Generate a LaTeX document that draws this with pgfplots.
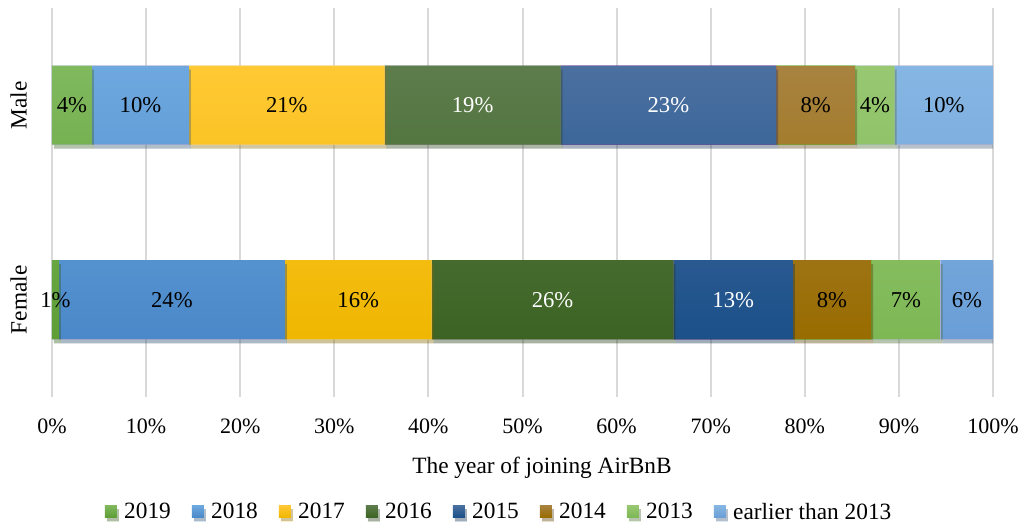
\documentclass[border=0pt]{standalone}
\usepackage{pgfplots}
\pgfplotsset{compat=1.18}
\usepackage{fontspec}
\setmainfont{Liberation Serif}
\usetikzlibrary{shadows}
\definecolor{t19}{HTML}{80B95E}\definecolor{b19}{HTML}{5E9E35}
\definecolor{t18}{HTML}{6EA8DF}\definecolor{b18}{HTML}{4A88C9}
\definecolor{t17}{HTML}{FFC935}\definecolor{b17}{HTML}{EFB700}
\definecolor{t16}{HTML}{5D7D4C}\definecolor{b16}{HTML}{3C6323}
\definecolor{t15}{HTML}{4B70A0}\definecolor{b15}{HTML}{1B5089}
\definecolor{t14}{HTML}{A88340}\definecolor{b14}{HTML}{996C00}
\definecolor{t13}{HTML}{98C872}\definecolor{b13}{HTML}{7DB855}
\definecolor{tE}{HTML}{86B6E3}\definecolor{bE}{HTML}{6A9ED6}
\definecolor{gridc}{HTML}{D9D9D9}
\newif\ifinlegend
\tikzset{myshadow/.code={\ifinlegend\else\pgfkeysalso{drop shadow={shadow xshift=1.5pt,shadow yshift=-3pt,opacity=0.22,fill=black}}\fi}}
\pgfplotsset{
  seg/.style n args={3}{draw=none, top color=#1, bottom color=#2, myshadow,
    every node near coord/.append style={text=#3}},
}
\begin{document}
\begin{tikzpicture}
\begin{axis}[
  name=ax,
  scale only axis,
  width=705.75pt, height=291.75pt,
  xbar stacked,
  bar width=59.25pt,
  xmin=0, xmax=100,
  ymin=-0.5, ymax=1.5,
  xtick={0,10,...,100},
  xticklabels={0\%,10\%,20\%,30\%,40\%,50\%,60\%,70\%,80\%,90\%,100\%},
  ytick={0,1},
  yticklabels={Female,Male},
  xmajorgrids,
  major grid style={draw=gridc, line width=1.5pt},
  axis line style={draw=none},
  tick style={draw=none},
  /pgf/number format/assume math mode=true,
  xticklabel style={font=\fontsize{16.5}{19}\selectfont, anchor=north, inner sep=0pt, yshift=-16.5pt},
  yticklabel style={font=\fontsize{17.5}{20}\selectfont, xshift=-18.75pt, rotate=90, anchor=south, inner sep=0pt},
  xlabel={The year of joining AirBnB},
  xlabel style={font=\fontsize{17.5}{20}\selectfont, at={(axis description cs:0.5207,-0.1954)}, anchor=base},
  point meta=explicit,
  nodes near coords={\pgfmathprintnumber[fixed,precision=0]{\pgfplotspointmeta}\%},
  every node near coord/.append style={font=\fontsize{17}{19}\selectfont, anchor=center},
  legend columns=-1,
  legend style={draw=none, at={(0.4755,-0.2956)}, anchor=center,
    font=\fontsize{17.5}{20}\selectfont,
    /tikz/every odd column/.append style={column sep=3.5pt},
    /tikz/every even column/.append style={column sep=13.75pt}},
  legend image code/.code={\inlegendtrue\fill[#1] (0pt,-4pt) rectangle (9pt,5pt);\inlegendfalse},
]
\addplot+[seg={t19}{b19}{black}] coordinates {(0.74,0) [0.74] (4.25,1) [4.25]};
\addplot+[seg={t18}{b18}{black}] coordinates {(24.0,0) [24.0] (10.3,1) [10.3]};
\addplot+[seg={t17}{b17}{black}] coordinates {(15.6,0) [15.6] (20.8,1) [20.8]};
\addplot+[seg={t16}{b16}{white}] coordinates {(25.7,0) [25.7] (18.7,1) [18.7]};
\addplot+[seg={t15}{b15}{white}] coordinates {(12.7,0) [12.7] (22.9,1) [22.9]};
\addplot+[seg={t14}{b14}{black}] coordinates {(8.3,0) [8.3] (8.4,1) [8.4]};
\addplot+[seg={t13}{b13}{black}] coordinates {(7.4,0) [7.4] (4.2,1) [4.2]};
\addplot+[seg={tE}{bE}{black}] coordinates {(5.56,0) [5.56] (10.45,1) [10.45]};
\legend{2019,2018,2017,2016,2015,2014,2013,earlier than 2013}
\end{axis}
\path ([shift={(-39pt,-97.5pt)}]ax.south west) rectangle ([shift={(24.75pt,6pt)}]ax.north east);
\end{tikzpicture}
\end{document}
